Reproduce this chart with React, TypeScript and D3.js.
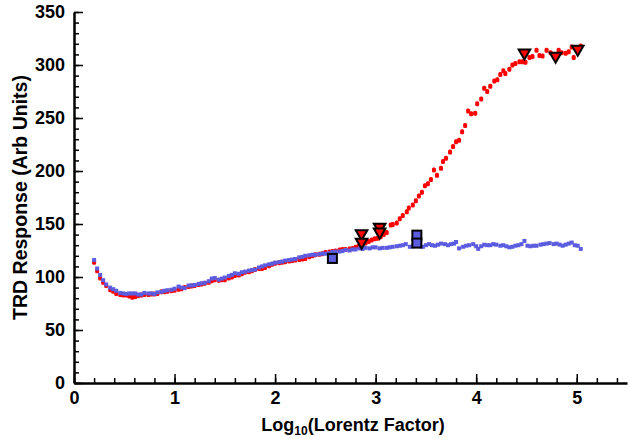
import React, { useEffect, useRef } from 'react';
import * as d3 from 'd3';

// measured TRD response, blue series (lower, flattening)
const blueLog = [
  0.20, 0.23, 0.26, 0.29, 0.32, 0.36, 0.39, 0.42, 0.46, 0.49, 0.52, 0.55, 0.58, 0.61, 0.64, 0.67, 0.70, 0.74, 0.77, 0.80,
  0.83, 0.87, 0.90, 0.93, 0.97, 1.00, 1.04, 1.07, 1.10, 1.14, 1.17, 1.20, 1.24, 1.27, 1.30, 1.34, 1.37, 1.40, 1.44, 1.47,
  1.50, 1.54, 1.57, 1.60, 1.64, 1.67, 1.70, 1.74, 1.77, 1.80, 1.84, 1.87, 1.90, 1.94, 1.97, 2.00, 2.04, 2.07, 2.10, 2.14,
  2.17, 2.20, 2.24, 2.27, 2.30, 2.34, 2.37, 2.40, 2.44, 2.47, 2.50, 2.54, 2.57, 2.60, 2.64, 2.67, 2.70, 2.74, 2.77, 2.80,
  2.84, 2.87, 2.90, 2.94, 2.97, 3.00, 3.04, 3.07, 3.11, 3.14, 3.17, 3.21, 3.24, 3.27, 3.30, 3.34, 3.37, 3.40, 3.44, 3.47,
  3.50, 3.53, 3.56, 3.59, 3.62, 3.65, 3.69, 3.72, 3.75, 3.78, 3.80, 3.83, 3.87, 3.90, 3.93, 3.97, 4.00, 4.02, 4.05, 4.08,
  4.11, 4.14, 4.17, 4.20, 4.24, 4.27, 4.30, 4.33, 4.36, 4.39, 4.42, 4.45, 4.48, 4.51, 4.54, 4.57, 4.60, 4.64, 4.67, 4.70,
  4.73, 4.77, 4.80, 4.83, 4.86, 4.89, 4.92, 4.95, 4.98, 5.01, 5.04
];
const blueResp = [
  116, 108, 102, 97, 93, 90, 88.5, 87, 85, 84.5, 84, 84.5, 84.5, 84.5, 83.5, 83.5, 85, 84.5, 84.5, 84,
  85.5, 86, 87, 87.5, 88, 89, 91, 90, 89.5, 92, 92, 92.5, 93.5, 94, 94.5, 96, 98.5, 99, 97.5, 98.5,
  99.5, 101, 102, 103.5, 103, 104.5, 105, 106, 106.5, 107, 109, 110, 111, 112, 112.5, 113.5, 114, 114.5, 115.5, 116,
  116.5, 117, 118.5, 119, 120, 120.5, 121, 121, 121.5, 122, 122, 122.5, 123.5, 124, 124, 124.5, 125.5, 125, 126, 126,
  127, 126.5, 127.5, 127, 128, 128, 127, 127.5, 127.5, 128, 128.5, 129, 129.5, 130, 131, 128.5, 129, 129.5, 129, 128.5,
  130, 131, 130, 129.5, 130.5, 131.5, 131, 130, 131, 131.5, 133, 127, 128.5, 129.5, 130, 131, 129, 126.5, 129, 130.5,
  130, 130, 131, 130.5, 129.5, 130, 129, 128, 128.5, 129.5, 130, 131, 134, 129.5, 129, 129.5, 129.5, 130.5, 131, 131.5,
  132, 131, 131.5, 130.5, 129.5, 130.5, 131.5, 132.5, 130, 129.5, 126.5
];

// red series (rises after log10 ~ 3)
const redLog = [
  0.20, 0.23, 0.26, 0.29, 0.32, 0.36, 0.39, 0.42, 0.46, 0.49, 0.52, 0.55, 0.58, 0.61, 0.64, 0.67, 0.70, 0.74, 0.77, 0.80,
  0.83, 0.87, 0.90, 0.93, 0.97, 1.00, 1.04, 1.07, 1.10, 1.14, 1.17, 1.20, 1.24, 1.27, 1.30, 1.34, 1.37, 1.40, 1.44, 1.47,
  1.50, 1.54, 1.57, 1.60, 1.64, 1.67, 1.70, 1.74, 1.77, 1.80, 1.84, 1.87, 1.90, 1.94, 1.97, 2.00, 2.04, 2.07, 2.10, 2.14,
  2.17, 2.20, 2.24, 2.27, 2.30, 2.34, 2.37, 2.40, 2.44, 2.47, 2.50, 2.54, 2.57, 2.60, 2.64, 2.67, 2.70, 2.74, 2.77, 2.80,
  2.83, 2.86, 2.90, 2.93, 2.96, 2.99, 3.02, 3.05, 3.08, 3.11, 3.15, 3.17, 3.21, 3.24, 3.27, 3.31, 3.33, 3.37, 3.40, 3.43,
  3.46, 3.49, 3.52, 3.55, 3.58, 3.61, 3.65, 3.67, 3.70, 3.74, 3.77, 3.80, 3.83, 3.86, 3.89, 3.92, 3.95, 3.99, 4.01, 4.05,
  4.08, 4.11, 4.14, 4.18, 4.21, 4.24, 4.27, 4.29, 4.33, 4.36, 4.39, 4.43, 4.46, 4.49, 4.53, 4.56, 4.60, 4.63, 4.66, 4.70,
  4.74, 4.77, 4.82, 4.85, 4.89, 4.92, 4.95, 4.97, 5.01, 5.04
];
const redResp = [
  114, 106, 99, 95, 92, 88, 86.5, 84.5, 83.5, 83, 83, 82, 81, 81.5, 82.5, 83, 83.5, 83.5, 84, 84,
  84.5, 86, 86, 86.5, 87, 87.5, 88.5, 89, 90, 91, 91.5, 92, 93, 93.5, 94, 95, 96.5, 97.5, 97, 97.5,
  97.5, 99, 100, 101.5, 102, 103, 104.5, 105, 106, 107, 108, 108, 109, 110.5, 112, 113, 113.5, 114, 114.5, 115,
  115.5, 116, 116.5, 117, 117.5, 119, 120, 121, 121.5, 122, 123, 123.5, 124, 124.5, 125.5, 126, 126, 126.5, 127, 128,
  129, 130.5, 132, 133.5, 135, 136, 136.5, 138, 140, 142, 149, 149.5, 151, 155, 158, 161.5, 165, 168, 172, 176.5,
  180, 186, 188, 192, 201, 196, 202.5, 209, 212, 218, 223, 227.5, 229, 237, 243, 256.5, 254, 254.5, 263.5, 268,
  278, 275, 280, 285, 286, 291, 294.5, 292, 296, 300, 301.5, 303, 303, 302.5, 307, 308, 314, 309, 308.5, 314,
  311.5, 310, 314, 311.5, 311, 312.5, 317, 307, 315.5, 318
];

// reference markers
const squareLog = [2.57, 3.41, 3.41];
const squareResp = [117.5, 139.5, 132];
const triangleLog = [2.86, 2.86, 3.04, 3.04, 4.48, 4.79, 5.01];
const triangleResp = [141, 133, 147, 142.5, 311.5, 308.5, 315];

const xTicks = [0, 1, 2, 3, 4, 5];
const yTicks = [0, 50, 100, 150, 200, 250, 300, 350];

const RED = '#ff0000';
const BLUE = '#5c5ce0';

export default function App() {
  const ref = useRef<SVGSVGElement>(null);

  useEffect(() => {
    const width = 628, height = 439;
    const left = 74, right = 627, top = 12, bottom = 383;

    const svg = d3.select(ref.current);
    svg.selectAll('*').remove();

    const x = d3.scaleLinear().domain([0, 5.5]).range([left, right]);
    const y = d3.scaleLinear().domain([0, 350]).range([bottom, top]);

    const font = 'Liberation Sans, Arial, sans-serif';

    // minor ticks
    svg.append('g')
      .attr('transform', `translate(${left},0)`)
      .call(d3.axisLeft(y).tickValues(d3.range(0, 351, 10)).tickSize(-5).tickFormat(() => ''))
      .call(g => g.select('.domain').remove())
      .call(g => g.selectAll('line').attr('stroke', '#000').attr('stroke-width', 1.5));

    svg.append('g')
      .attr('transform', `translate(0,${bottom})`)
      .call(d3.axisBottom(x).tickValues(d3.range(0, 5.51, 0.2)).tickSize(-5).tickFormat(() => ''))
      .call(g => g.select('.domain').remove())
      .call(g => g.selectAll('line').attr('stroke', '#000').attr('stroke-width', 1.5));

    // major ticks + labels
    svg.append('g')
      .attr('transform', `translate(${left},0)`)
      .call(d3.axisLeft(y).tickValues(yTicks).tickSize(-9).tickSizeOuter(0).tickPadding(9).tickFormat(d3.format('d')))
      .call(g => g.select('.domain').attr('stroke-width', 2.5))
      .call(g => g.selectAll('line').attr('stroke-width', 1.5))
      .call(g => g.selectAll('text').attr('font-size', 18).attr('font-weight', 'bold').attr('font-family', font).attr('fill', '#000'));

    svg.append('g')
      .attr('transform', `translate(0,${bottom})`)
      .call(d3.axisBottom(x).tickValues(xTicks).tickSize(-9).tickSizeOuter(0).tickPadding(8).tickFormat(d3.format('d')))
      .call(g => g.select('.domain').attr('stroke-width', 2.5))
      .call(g => g.selectAll('line').attr('stroke-width', 1.5))
      .call(g => g.selectAll('text').attr('font-size', 18).attr('font-weight', 'bold').attr('font-family', font).attr('fill', '#000'));

    // axis titles
    svg.append('text')
      .attr('transform', `translate(27,${(top + bottom) / 2}) rotate(-90)`)
      .attr('text-anchor', 'middle')
      .attr('font-family', font).attr('font-weight', 'bold').attr('font-size', 19.5)
      .text('TRD Response (Arb Units)');

    const xt = svg.append('text')
      .attr('x', 353).attr('y', 431)
      .attr('text-anchor', 'middle')
      .attr('font-family', font).attr('font-weight', 'bold').attr('font-size', 18);
    xt.append('tspan').text('Log');
    xt.append('tspan').attr('font-size', 12).attr('dy', 4).text('10');
    xt.append('tspan').attr('dy', -4).text('(Lorentz Factor)');

    // red points
    svg.append('g').selectAll('rect')
      .data(d3.range(redLog.length))
      .enter().append('rect')
      .attr('x', i => x(redLog[i]) - 2)
      .attr('y', i => y(redResp[i]) - 2.5)
      .attr('width', 4).attr('height', 5).attr('rx', 1.5)
      .attr('fill', RED);

    // blue points
    svg.append('g').selectAll('rect')
      .data(d3.range(blueLog.length))
      .enter().append('rect')
      .attr('x', i => x(blueLog[i]) - 2)
      .attr('y', i => y(blueResp[i]) - 2)
      .attr('width', 4).attr('height', 4)
      .attr('fill', BLUE);

    // squares
    svg.append('g').selectAll('rect')
      .data(d3.range(squareLog.length))
      .enter().append('rect')
      .attr('x', i => x(squareLog[i]) - 4.5)
      .attr('y', i => y(squareResp[i]) - 4.5)
      .attr('width', 9).attr('height', 9)
      .attr('fill', BLUE).attr('stroke', '#000').attr('stroke-width', 2);

    // down triangles
    const tri = d3.symbol().type(d3.symbolTriangle).size(58);
    svg.append('g').selectAll('path')
      .data(d3.range(triangleLog.length))
      .enter().append('path')
      .attr('d', tri)
      .attr('transform', i => `translate(${x(triangleLog[i])},${y(triangleResp[i])}) rotate(180)`)
      .attr('fill', RED).attr('stroke', '#000').attr('stroke-width', 2);

    svg.attr('width', width).attr('height', height);
  }, []);

  return (
    <svg ref={ref} width={628} height={439}
      style={{ position: 'absolute', left: 0, top: 0, background: '#fff' }} />
  );
}
